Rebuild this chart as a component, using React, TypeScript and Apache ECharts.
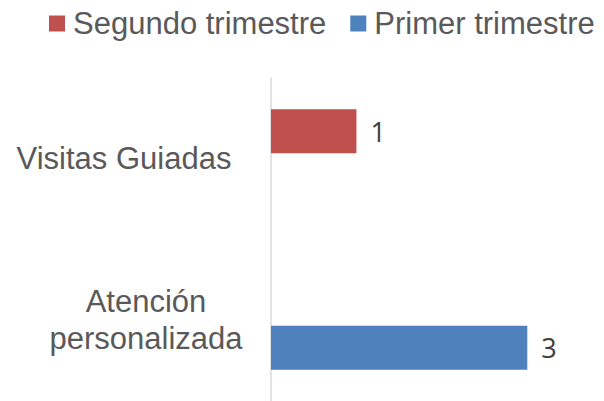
import React, { useEffect, useRef } from "react";
import * as echarts from "echarts";

const categories = ["Atención personalizada", "Visitas Guiadas"];
const seriesNames = ["Segundo trimestre", "Primer trimestre"];
const segundoValues: (number | null)[] = [null, 1];
const primerValues: (number | null)[] = [3, null];
const colors = ["#C0504D", "#4F81BD"];

export default function App() {
  const ref = useRef<HTMLDivElement>(null);
  useEffect(() => {
    if (!ref.current) return;
    const chart = echarts.init(ref.current, undefined, { renderer: "svg" });
    const labelFont = "'Liberation Sans', Arial, sans-serif";
    const valueLabel = {
      show: true,
      position: "right" as const,
      distance: 14,
      color: "#404040",
      fontSize: 27,
      fontFamily: "'Open Sans', sans-serif",
    };
    chart.setOption({
      animation: false,
      backgroundColor: "#ffffff",
      legend: {
        data: seriesNames,
        left: 44,
        top: 3,
        itemWidth: 16,
        itemHeight: 16,
        itemGap: 24,
        icon: "rect",
        textStyle: {
          fontSize: 31,
          lineHeight: 31,
          color: "#595959",
          fontFamily: labelFont,
          padding: [0, 0, 0, 3],
        },
      },
      grid: { left: 271, top: 78, bottom: 0, right: 34, containLabel: false },
      xAxis: {
        type: "value",
        min: 0,
        max: 3.5,
        interval: 0.5,
        show: false,
        splitLine: { show: false },
      },
      yAxis: {
        type: "category",
        data: categories,
        axisTick: { show: false },
        axisLine: { show: true, lineStyle: { color: "#d9d9d9", width: 1.5 } },
        axisLabel: {
          fontSize: 31,
          lineHeight: 37,
          color: "#595959",
          fontFamily: labelFont,
          align: "center",
          margin: 125,
          formatter: (v: string) =>
            v === "Visitas Guiadas"
              ? "{v|" + v + "}"
              : v.replace(" ", "\n"),
          rich: {
            v: {
              fontSize: 31,
              color: "#595959",
              fontFamily: labelFont,
              padding: [0, 44, 0, 0],
            },
          },
        },
      },
      series: [
        {
          name: seriesNames[0],
          type: "bar",
          data: segundoValues,
          barWidth: 44,
          barGap: "25%",
          itemStyle: { color: colors[0] },
          label: valueLabel,
        },
        {
          name: seriesNames[1],
          type: "bar",
          data: primerValues,
          barWidth: 44,
          barGap: "25%",
          itemStyle: { color: colors[1] },
          label: valueLabel,
        },
      ],
    });
    return () => chart.dispose();
  }, []);
  return (
    <div
      ref={ref}
      style={{ position: "fixed", left: 0, top: 0, width: 604, height: 401 }}
    />
  );
}
